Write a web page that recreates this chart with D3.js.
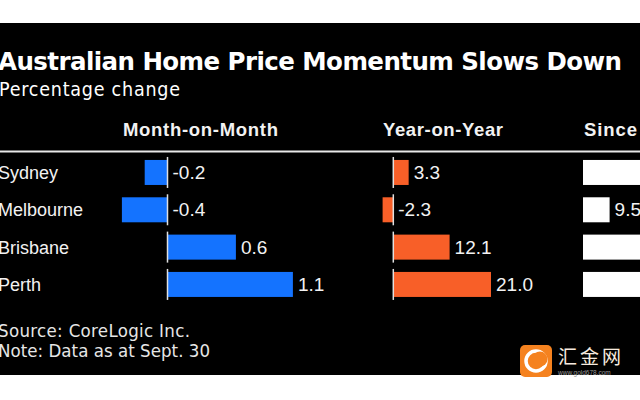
<!DOCTYPE html>
<html><head><meta charset="utf-8">
<script src="https://cdn.jsdelivr.net/npm/d3@7"></script>
<style>html,body{margin:0;padding:0;background:#fff;overflow:hidden}</style>
</head><body>
<svg id="c" width="640" height="400"></svg>
<script>
// ---- data ----
const cities = ["Sydney", "Melbourne", "Brisbane", "Perth"];
const monthOnMonth = [-0.2, -0.4, 0.6, 1.1];
const yearOnYear = [3.3, -2.3, 12.1, 21.0];
const sinceValues = [33.6, 9.5, 70.2, 73.7];
const columnHeaders = ["Month-on-Month", "Year-on-Year", "Since"];
const titleText = "Australian Home Price Momentum Slows Down";
const subtitleText = "Percentage change";
const footerLines = ["Source: CoreLogic Inc.", "Note: Data as at Sept. 30"];

const svg = d3.select("#c");
svg.append("rect").attr("x",0).attr("y",0).attr("width",640).attr("height",400).attr("fill","#fff");
svg.append("rect").attr("x",0).attr("y",23).attr("width",640).attr("height",352).attr("fill","#000");

function fitText(sel, target){
  const n = sel.text().length;
  const w = sel.node().getComputedTextLength();
  sel.attr("letter-spacing", ((target - w) / (n - 1)).toFixed(3));
}

const sansCond = "'DejaVu Sans Condensed','DejaVu Sans',sans-serif";
const helv = "'Liberation Sans',Arial,sans-serif";
const fmt = v => v.toFixed(1);

const t = svg.append("text").attr("x",-2).attr("y",70).text(titleText)
  .attr("fill","#fff").attr("font-family","'DejaVu Sans',sans-serif").attr("font-weight","bold").attr("font-size",24.5);
fitText(t, 624);
const st = svg.append("text").attr("x",-1).attr("y",96).text(subtitleText)
  .attr("fill","#fff").attr("font-family",sansCond).attr("font-stretch","condensed").attr("font-size",19.5);
fitText(st, 181);

// rows
const y = d3.scaleBand().domain(cities).range([153.8, 303.1]).paddingInner(0.33).paddingOuter(0.165);

svg.append("line").attr("x1",0).attr("x2",640).attr("y1",151.5).attr("y2",151.5)
  .attr("stroke","#e8e8e8").attr("stroke-width",2);

svg.selectAll("text.city").data(cities).join("text").attr("class","city")
  .attr("x",-2).attr("y",d=>y(d)+y.bandwidth()/2+6.5).text(d=>d)
  .attr("fill","#f2f2f2").attr("font-family",helv).attr("font-size",18);

const cols = [
  {vals: monthOnMonth, x: d3.scaleLinear().domain([-0.4, 1.1]).range([121.9, 292.9]), color:"#1473ff", head:123, headW:155, axis:true},
  {vals: yearOnYear, x: d3.scaleLinear().domain([-2.3, 21.0]).range([382.6, 491]), color:"#f85f28", head:383, headW:120, axis:true},
  {vals: sinceValues, x: d3.scaleLinear().domain([0, 9.5]).range([583, 609.6]), color:"#ffffff", head:584, headW:53, axis:false}
];

cols.forEach((c,i)=>{
  const h = svg.append("text").attr("x",c.head).attr("y",136).text(columnHeaders[i])
    .attr("fill","#f2f2f2").attr("font-family",helv).attr("font-weight","bold").attr("font-size",18.5);
  fitText(h, c.headW);
  const g = svg.append("g");
  const rows = cities.map((city,j)=>({city, v:c.vals[j]}));
  g.selectAll("rect").data(rows).join("rect")
    .attr("x",d=>c.x(Math.min(0,d.v))).attr("y",d=>y(d.city))
    .attr("width",d=>Math.abs(c.x(d.v)-c.x(0))).attr("height",y.bandwidth())
    .attr("fill",c.color);
  if(c.axis){
    g.selectAll("line").data(rows).join("line")
      .attr("x1",c.x(0)).attr("x2",c.x(0))
      .attr("y1",d=>y(d.city)-3).attr("y2",d=>y(d.city)+y.bandwidth()+3)
      .attr("stroke","#e0e0e0").attr("stroke-width",1.5);
  }
  g.selectAll("text").data(rows).join("text")
    .attr("x",d=>c.x(Math.max(0,d.v))+5).attr("y",d=>y(d.city)+y.bandwidth()/2+6.5)
    .text(d=>fmt(d.v)).attr("fill","#f2f2f2").attr("font-family",helv).attr("font-size",19);
});

footerLines.forEach((s,i)=>{
  const f = svg.append("text").attr("x",-2).attr("y",[337,357][i]).text(s)
    .attr("fill","#e6e6e6").attr("font-family",sansCond).attr("font-stretch","condensed").attr("font-size",18.5);
  fitText(f, [192, 212][i]);
});

// watermark
const wm = svg.append("g");
wm.append("rect").attr("x",520).attr("y",345).attr("width",32).attr("height",32).attr("rx",5).attr("fill","#f5821f");
wm.append("circle").attr("cx",536).attr("cy",361).attr("r",10).attr("fill","none").attr("stroke","#fff").attr("stroke-width",3.5);
wm.append("circle").attr("cx",540).attr("cy",359).attr("r",7.5).attr("fill","#f5821f");
wm.append("text").attr("x",558).attr("y",364).text("汇金网").attr("fill","#f6eadf")
  .attr("font-family","'Noto Sans CJK SC',sans-serif").attr("font-size",19).attr("letter-spacing",3);
wm.append("text").attr("x",558).attr("y",375).text("www.gold678.com").attr("fill","#9a9a9a")
  .attr("font-family",helv).attr("font-size",6.5);
</script>
</body></html>
